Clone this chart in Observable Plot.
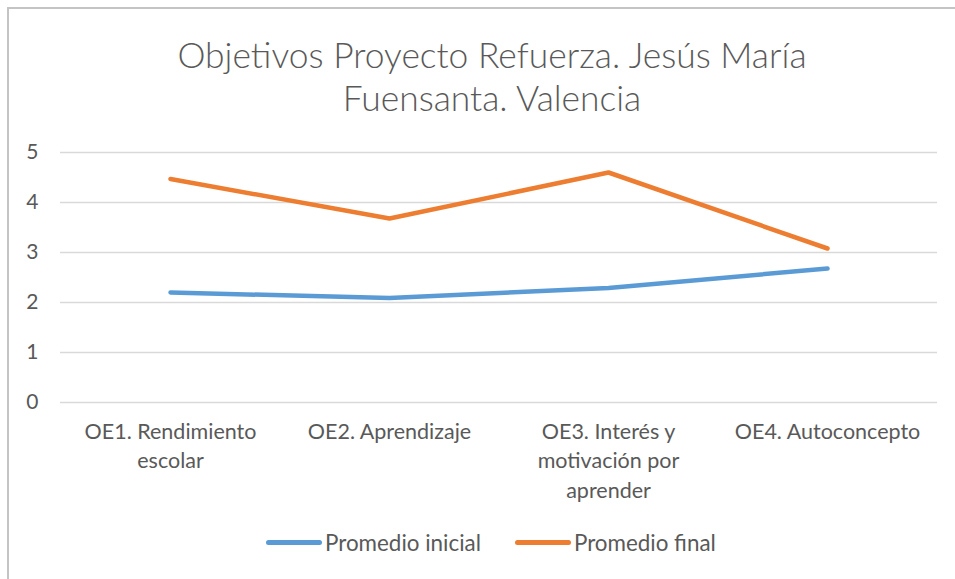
<!DOCTYPE html>
<html>
<head>
<meta charset="utf-8">
<script src="https://cdn.jsdelivr.net/npm/d3@7"></script>
<script src="https://cdn.jsdelivr.net/npm/@observablehq/plot@0.6"></script>
<style>
  html, body { margin: 0; padding: 0; background: #fff; }
  #wrap { position: relative; width: 955px; height: 579px; overflow: hidden; background: #fff; font-family: Lato, "Open Sans", sans-serif; }
  #frame { position: absolute; left: 7px; top: 7px; right: -5px; bottom: -5px; border-left: 2px solid #c4c4c4; border-top: 2px solid #c4c4c4; }
  #title { position: absolute; left: 0; top: 33px; width: 984px; text-align: center; font-size: 35.4px; font-weight: 300; line-height: 43px; color: #595959; }
  #chart { position: absolute; left: 0; top: 130px; }
  #legend { position: absolute; left: 266px; top: 529px; display: flex; align-items: center; font-size: 22.4px; color: #595959; white-space: nowrap; }
  .item { display: flex; align-items: center; }
  .sw { width: 56px; height: 5px; border-radius: 3px; margin-right: 3px; }
</style>
</head>
<body>
<div id="wrap">
  <div id="frame"></div>
  <div id="title">Objetivos Proyecto Refuerza. Jesús María<br>Fuensanta. Valencia</div>
  <div id="chart"></div>
  <div id="legend"></div>
</div>
<script>
const categories = ["OE1", "OE2", "OE3", "OE4"];
const categoryLabels = ["OE1. Rendimiento\nescolar", "OE2. Aprendizaje", "OE3. Interés y\nmotivación por\naprender", "OE4. Autoconcepto"];
const seriesNames = ["Promedio inicial", "Promedio final"];
const seriesColors = ["#5b9bd5", "#ed7d31"];
const promedioInicial = [2.2, 2.09, 2.29, 2.68];
const promedioFinal = [4.47, 3.68, 4.6, 3.08];
const yTicks = [0, 1, 2, 3, 4, 5];

const rows = [];
categories.forEach((c, i) => {
  rows.push({serie: seriesNames[0], cat: c, value: promedioInicial[i]});
  rows.push({serie: seriesNames[1], cat: c, value: promedioFinal[i]});
});
const labelOf = new Map(categories.map((c, i) => [c, categoryLabels[i]]));

const chart = Plot.plot({
  width: 955,
  height: 380,
  marginLeft: 60,
  marginRight: 18,
  marginTop: 22,
  marginBottom: 108,
  style: {fontFamily: "Lato, 'Open Sans', sans-serif", color: "#595959", background: "transparent"},
  x: {type: "point", domain: categories, padding: 0.5, label: null},
  y: {domain: [0, 5], ticks: yTicks, label: null},
  color: {domain: seriesNames, range: seriesColors},
  marks: [
    Plot.ruleY(yTicks, {stroke: "#d9d9d9", strokeWidth: 1.5}),
    Plot.axisY({ticks: yTicks, tickSize: 0, tickPadding: 22, fontSize: 21, tickFormat: d => String(d), label: null, fill: "#595959"}),
    Plot.axisX({tickSize: 0, tickPadding: 15.5, fontSize: 21.5, lineHeight: 1.37, tickFormat: d => labelOf.get(d), label: null, fill: "#595959"}),
    Plot.line(rows, {x: "cat", y: "value", z: "serie", stroke: "serie", strokeWidth: 4.5, strokeLinecap: "round", strokeLinejoin: "round"})
  ]
});
document.getElementById("chart").appendChild(chart);

const legend = document.getElementById("legend");
seriesNames.forEach((name, i) => {
  const item = document.createElement("div");
  item.className = "item";
  if (i > 0) item.style.marginLeft = "34px";
  const sw = document.createElement("div");
  sw.className = "sw";
  sw.style.background = seriesColors[i];
  const t = document.createElement("span");
  t.textContent = name;
  item.appendChild(sw);
  item.appendChild(t);
  legend.appendChild(item);
});
</script>
</body>
</html>
